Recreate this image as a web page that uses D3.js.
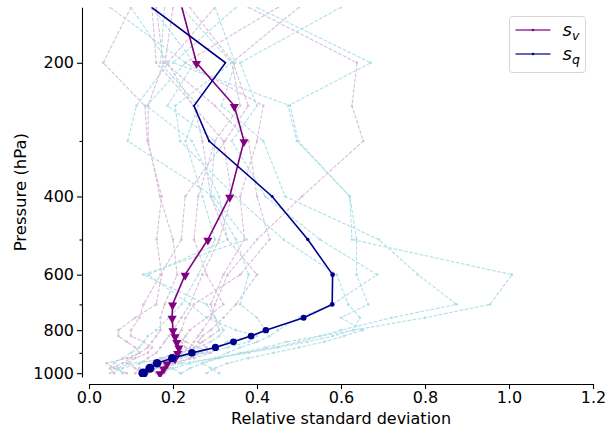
<!DOCTYPE html>
<html>
<head>
<meta charset="utf-8">
<script src="https://cdn.jsdelivr.net/npm/d3@7"></script>
<style>
  body { margin: 0; background: #fff; }
  text { font-family: "DejaVu Sans", sans-serif; fill: #000; }
</style>
</head>
<body>
<div id="chart"></div>
<script>
// pressure levels (hPa)
const levels = [150, 200, 250, 300, 400, 500, 600, 700, 750, 800, 825, 850, 875, 900, 925, 950, 975, 1000];

// ensemble mean curves
const sv = [0.221, 0.256, 0.346, 0.369, 0.335, 0.283, 0.229, 0.199, 0.198, 0.200, 0.205, 0.209, 0.214, 0.211, 0.205, 0.186, 0.178, 0.169];
const sq = [0.149, 0.325, 0.250, 0.286, 0.436, 0.521, 0.580, 0.579, 0.511, 0.421, 0.386, 0.344, 0.301, 0.245, 0.198, 0.162, 0.145, 0.129];

// marker weights per level (0 = no marker)
const svWeight = [0, 1, 1, 1, 1, 1, 1, 1, 1, 1, 1, 1, 1, 1, 1, 1, 1, 1];
const sqWeight = [0, 0.1, 0.15, 0.25, 0.3, 0.35, 0.5, 0.5, 0.62, 0.67, 0.7, 0.72, 0.75, 0.8, 0.85, 0.9, 0.95, 1.0];

// individual members, s_v
const svMembers = [
  [0.10, 0.034, 0.133, 0.139, 0.173, 0.161, 0.173, 0.160, 0.110, 0.070, 0.070, 0.090, 0.110, 0.120, 0.090, 0.042, 0.060, 0.090],
  [0.38, 0.638, 0.626, 0.653, 0.507, 0.400, 0.330, 0.300, 0.290, 0.270, 0.260, 0.250, 0.240, 0.220, 0.190, 0.160, 0.140, 0.130],
  [0.24, 0.343, 0.379, 0.324, 0.229, 0.220, 0.170, 0.130, 0.120, 0.100, 0.100, 0.130, 0.150, 0.140, 0.110, 0.090, 0.110, 0.130],
  [0.30, 0.187, 0.248, 0.320, 0.340, 0.310, 0.270, 0.240, 0.220, 0.200, 0.190, 0.180, 0.170, 0.160, 0.140, 0.120, 0.120, 0.110],
  [0.16, 0.177, 0.141, 0.141, 0.169, 0.200, 0.210, 0.180, 0.170, 0.170, 0.160, 0.150, 0.140, 0.120, 0.100, 0.080, 0.050, 0.060],
  [0.45, 0.229, 0.415, 0.400, 0.360, 0.370, 0.320, 0.290, 0.300, 0.310, 0.290, 0.270, 0.250, 0.220, 0.200, 0.180, 0.170, 0.170],
  [0.20, 0.181, 0.300, 0.380, 0.400, 0.430, 0.360, 0.250, 0.230, 0.220, 0.210, 0.230, 0.260, 0.290, 0.250, 0.200, 0.160, 0.140],
  [0.50, 0.340, 0.360, 0.300, 0.260, 0.250, 0.280, 0.320, 0.280, 0.240, 0.230, 0.220, 0.230, 0.210, 0.170, 0.150, 0.150, 0.160],
  [0.15, 0.160, 0.250, 0.270, 0.290, 0.330, 0.400, 0.350, 0.320, 0.290, 0.270, 0.260, 0.280, 0.270, 0.240, 0.200, 0.190, 0.180]
];

// individual members, s_q
const sqMembers = [
  [0.40, 0.671, 0.474, 0.495, 0.621, 0.626, 1.007, 0.955, 0.800, 0.630, 0.550, 0.470, 0.420, 0.360, 0.310, 0.270, 0.240, 0.220],
  [0.30, 0.348, 0.316, 0.415, 0.467, 0.690, 0.783, 0.875, 0.720, 0.600, 0.550, 0.500, 0.440, 0.370, 0.300, 0.220, 0.160, 0.120],
  [0.10, 0.189, 0.113, 0.092, 0.296, 0.375, 0.129, 0.280, 0.300, 0.320, 0.310, 0.290, 0.260, 0.220, 0.180, 0.120, 0.080, 0.050],
  [0.22, 0.340, 0.205, 0.217, 0.348, 0.463, 0.590, 0.617, 0.645, 0.629, 0.580, 0.520, 0.450, 0.380, 0.300, 0.240, 0.200, 0.170],
  [0.05, 0.230, 0.137, 0.245, 0.310, 0.330, 0.141, 0.240, 0.280, 0.350, 0.400, 0.380, 0.330, 0.280, 0.200, 0.100, 0.066, 0.080],
  [0.35, 0.200, 0.479, 0.498, 0.621, 0.637, 0.637, 0.665, 0.600, 0.652, 0.607, 0.560, 0.500, 0.440, 0.380, 0.330, 0.300, 0.280],
  [0.15, 0.250, 0.187, 0.300, 0.290, 0.350, 0.380, 0.360, 0.400, 0.420, 0.380, 0.330, 0.300, 0.260, 0.220, 0.170, 0.200, 0.217],
  [0.60, 0.360, 0.400, 0.340, 0.420, 0.550, 0.686, 0.580, 0.500, 0.450, 0.430, 0.400, 0.360, 0.330, 0.300, 0.270, 0.290, 0.310],
  [0.18, 0.170, 0.260, 0.230, 0.270, 0.300, 0.260, 0.220, 0.190, 0.160, 0.140, 0.130, 0.120, 0.100, 0.080, 0.060, 0.070, 0.080]
];

const yTicks = [200, 400, 600, 800, 1000];
const yMinorTicks = [300, 500, 700, 900];
const xTicks = [0, 0.2, 0.4, 0.6, 0.8, 1.0, 1.2];

const width = 608, height = 427;
const plot = { left: 89, right: 593, top: 7.3, bottom: 377 };

const svg = d3.select("#chart").append("svg")
  .attr("width", width).attr("height", height);

const x = d3.scaleLinear().domain([0, 1.2]).range([plot.left, plot.right]);
const y = d3.scaleLog().domain([150, 1020]).range([plot.top, plot.bottom]);

svg.append("clipPath").attr("id", "clip")
  .append("rect")
  .attr("x", plot.left).attr("y", plot.top)
  .attr("width", plot.right - plot.left).attr("height", plot.bottom - plot.top);

const g = svg.append("g").attr("clip-path", "url(#clip)");

const line = d3.line()
  .x(d => x(d[1]))
  .y(d => y(d[0]));

function drawMember(vals, color) {
  const pts = levels.map((p, i) => [p, vals[i]]);
  g.append("path")
    .attr("d", line(pts))
    .attr("fill", "none")
    .attr("stroke", color)
    .attr("stroke-width", 1.1)
    .attr("stroke-dasharray", "3.7,1.6");
  g.append("g").selectAll("circle")
    .data(pts)
    .join("circle")
    .attr("cx", d => x(d[1]))
    .attr("cy", d => y(d[0]))
    .attr("r", 1.3)
    .attr("fill", color);
}

svMembers.forEach(m => drawMember(m, "#d8bfd8"));
sqMembers.forEach(m => drawMember(m, "#b0e0e6"));

// s_v mean
const svPts = levels.map((p, i) => [p, sv[i], svWeight[i]]);
g.append("path")
  .attr("d", line(svPts))
  .attr("fill", "none")
  .attr("stroke", "#800080")
  .attr("stroke-width", 1.6);
const tri = d3.symbol().type(d3.symbolTriangle).size(36);
g.append("g").selectAll("path")
  .data(svPts.filter(d => d[2] > 0))
  .join("path")
  .attr("d", tri)
  .attr("transform", d => "translate(" + x(d[1]) + "," + (y(d[0]) + 0.8) + ") rotate(180)")
  .attr("fill", "#800080");

// s_q mean
const rScale = d3.scaleLinear().domain([0, 1]).range([0, 4.8]);
const sqPts = levels.map((p, i) => [p, sq[i], sqWeight[i]]);
g.append("path")
  .attr("d", line(sqPts))
  .attr("fill", "none")
  .attr("stroke", "#00008b")
  .attr("stroke-width", 1.6);
g.append("g").selectAll("circle")
  .data(sqPts.filter(d => d[2] > 0))
  .join("circle")
  .attr("cx", d => x(d[1]))
  .attr("cy", d => y(d[0]))
  .attr("r", d => rScale(d[2]))
  .attr("fill", "#00008b");

// axes (spines offset outward)
svg.append("g")
  .attr("transform", "translate(82,0)")
  .call(d3.axisLeft(y).tickValues(yTicks).tickFormat(d3.format("d")).tickSize(5).tickSizeOuter(0).tickPadding(3));
svg.append("g")
  .attr("transform", "translate(82,0)")
  .call(d3.axisLeft(y).tickValues(yMinorTicks).tickFormat("").tickSize(2.5).tickSizeOuter(0))
  .call(s => s.select(".domain").remove());

svg.append("g")
  .attr("transform", "translate(0,384)")
  .call(d3.axisBottom(x).tickValues(xTicks).tickFormat(d3.format(".1f")).tickSize(5).tickSizeOuter(0).tickPadding(3));

svg.selectAll(".tick text")
  .style("font-family", "DejaVu Sans, sans-serif")
  .style("font-size", "16px")
  .attr("fill", "#000");
svg.selectAll(".domain, .tick line").attr("stroke", "#000").attr("stroke-width", 1.1);

svg.append("text")
  .attr("x", x(0.6)).attr("y", 424)
  .attr("text-anchor", "middle")
  .style("font-size", "16px")
  .text("Relative standard deviation");

svg.append("text")
  .attr("transform", "translate(26," + ((plot.top + plot.bottom) / 2) + ") rotate(-90)")
  .attr("text-anchor", "middle")
  .style("font-size", "16.5px")
  .text("Pressure (hPa)");

// legend
const legend = svg.append("g").attr("transform", "translate(509.5,16.5)");
legend.append("rect")
  .attr("width", 76).attr("height", 56).attr("rx", 3)
  .attr("fill", "#fff").attr("fill-opacity", 0.8)
  .attr("stroke", "#d6d6d6");

const legendItems = [
  { color: "#800080", base: "s", sub: "v" },
  { color: "#00008b", base: "s", sub: "q" }
];
legendItems.forEach((it, i) => {
  const ly = 13.5 + i * 24;
  legend.append("line")
    .attr("x1", 6).attr("x2", 41).attr("y1", ly).attr("y2", ly)
    .attr("stroke", it.color).attr("stroke-width", 1.5).attr("stroke-opacity", 0.8);
  legend.append("circle")
    .attr("cx", 23.5).attr("cy", ly).attr("r", 1.3).attr("fill", it.color);
  const t = legend.append("text")
    .attr("x", 53).attr("y", ly + 6)
    .style("font-size", "18px")
    .style("font-style", "italic");
  t.append("tspan").text(it.base);
  t.append("tspan").attr("dy", 4).style("font-size", "12.5px").text(it.sub);
});
</script>
</body>
</html>
